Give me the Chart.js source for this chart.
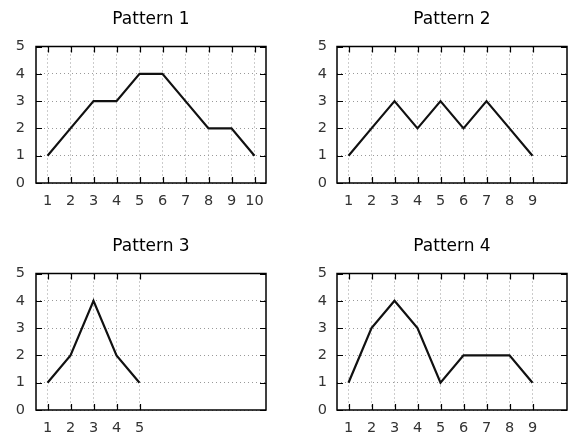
<!DOCTYPE html>
<html>
<head>
<meta charset="utf-8">
<script src="https://cdn.jsdelivr.net/npm/chart.js@4/dist/chart.umd.min.js"></script>
<style>
  html, body { margin: 0; padding: 0; background: #fff; }
  #wrap { position: relative; width: 568px; height: 434px; overflow: hidden; background: #fff; }
  .panel { position: absolute; width: 284px; height: 207px; }
  .panel canvas { display: block; }
</style>
</head>
<body>
<div id="wrap">
  <div class="panel" style="left:0;top:0"><canvas id="c1" width="284" height="207"></canvas></div>
  <div class="panel" style="left:284px;top:0"><canvas id="c2" width="284" height="207"></canvas></div>
  <div class="panel" style="left:0;top:227px"><canvas id="c3" width="284" height="207"></canvas></div>
  <div class="panel" style="left:284px;top:227px"><canvas id="c4" width="284" height="207"></canvas></div>
</div>
<script>
// ---- data ----
const titles = ["Pattern 1", "Pattern 2", "Pattern 3", "Pattern 4"];
const steps1 = [1, 2, 3, 4, 5, 6, 7, 8, 9, 10];
const values1 = [1, 2, 3, 3, 4, 4, 3, 2, 2, 1];
const steps2 = [1, 2, 3, 4, 5, 6, 7, 8, 9];
const values2 = [1, 2, 3, 2, 3, 2, 3, 2, 1];
const steps3 = [1, 2, 3, 4, 5];
const values3 = [1, 2, 4, 2, 1];
const steps4 = [1, 2, 3, 4, 5, 6, 7, 8, 9];
const values4 = [1, 3, 4, 3, 1, 2, 2, 2, 1];
const yTicks = [0, 1, 2, 3, 4, 5];

const FONT = "'DejaVu Sans', sans-serif";

const framePlugin = {
  id: 'frame',
  afterDraw(chart, args, opts) {
    const ctx = chart.ctx;
    const a = chart.chartArea;
    const xs = chart.scales.x, ys = chart.scales.y;
    const L = 6;
    ctx.save();
    ctx.strokeStyle = '#000';
    ctx.lineWidth = 1.2;
    ctx.beginPath();
    xs.ticks.forEach(t => {
      const px = Math.round(xs.getPixelForValue(t.value)) + 0.5;
      ctx.moveTo(px, a.bottom); ctx.lineTo(px, a.bottom - L);
      ctx.moveTo(px, a.top); ctx.lineTo(px, a.top + L);
    });
    ys.ticks.forEach(t => {
      const py = Math.round(ys.getPixelForValue(t.value)) + 0.5;
      ctx.moveTo(a.left, py); ctx.lineTo(a.left + L, py);
      ctx.moveTo(a.right, py); ctx.lineTo(a.right - L, py);
    });
    ctx.stroke();
    ctx.lineWidth = 1.5;
    ctx.strokeRect(a.left, a.top, a.right - a.left, a.bottom - a.top);
    // title centred over the plot area
    ctx.fillStyle = '#000';
    ctx.font = "17px " + FONT;
    ctx.textAlign = 'center';
    ctx.textBaseline = 'middle';
    ctx.fillText(opts.text, (a.left + a.right) / 2, 20);
    ctx.restore();
  }
};

function makeChart(id, title, steps, values, yWidth, yPad, padRight) {
  const pts = steps.map((s, i) => ({ x: s, y: values[i] }));
  return new Chart(document.getElementById(id), {
    type: 'line',
    data: { datasets: [{ data: pts, borderColor: '#111', borderWidth: 2.2, pointRadius: 0, tension: 0, fill: false }] },
    options: {
      responsive: false,
      animation: false,
      layout: { padding: { left: 0, right: padRight, top: 46.5, bottom: 0 } },
      plugins: {
        legend: { display: false },
        tooltip: { enabled: false },
        title: { display: false },
        frame: { text: title }
      },
      scales: {
        x: {
          type: 'linear', min: 0.5, max: 10.5,
          afterBuildTicks: s => { s.ticks = steps.map(v => ({ value: v })); },
          afterFit: s => { s.height = 24; },
          ticks: { color: '#333', font: { family: FONT, size: 14.5 }, padding: 10, maxRotation: 0, autoSkip: false },
          grid: { color: '#999', lineWidth: 1, drawTicks: false },
          border: { display: false, dash: [1, 3] }
        },
        y: {
          min: 0, max: 5,
          afterBuildTicks: s => { s.ticks = yTicks.map(v => ({ value: v })); },
          afterFit: s => { s.width = yWidth; },
          ticks: { color: '#333', font: { family: FONT, size: 14.5 }, padding: yPad },
          grid: { color: '#999', lineWidth: 1, drawTicks: false },
          border: { display: false, dash: [1, 3] }
        }
      }
    },
    plugins: [framePlugin]
  });
}

makeChart('c1', titles[0], steps1, values1, 36, 11, 18);
makeChart('c2', titles[1], steps2, values2, 53, 10, 1);
makeChart('c3', titles[2], steps3, values3, 36, 11, 18);
makeChart('c4', titles[3], steps4, values4, 53, 10, 1);
</script>
</body>
</html>
